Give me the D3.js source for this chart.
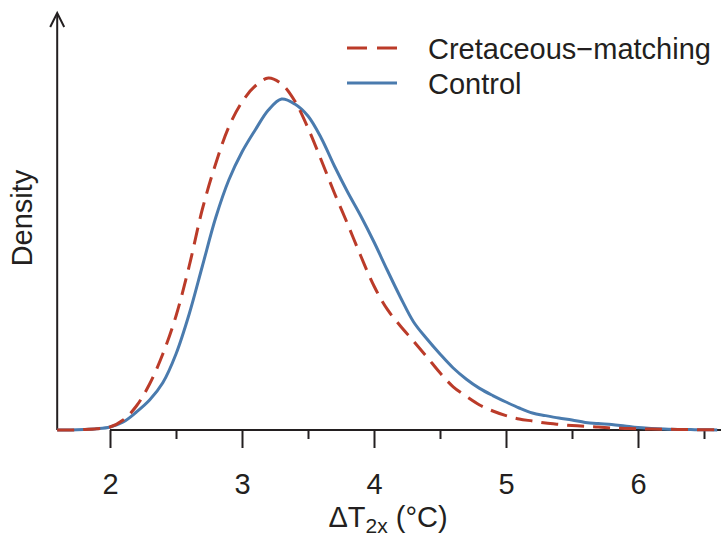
<!DOCTYPE html>
<html>
<head>
<meta charset="utf-8">
<script src="https://cdn.jsdelivr.net/npm/d3@7"></script>
<style>
  body { margin: 0; background: #fff; }
  svg text { font-family: "Liberation Sans", Arial, Helvetica, sans-serif; fill: #231f20; }
</style>
</head>
<body>
<div id="chart"></div>
<script>
// datos (densidad estimada)
const xVals = [1.6, 1.7, 1.8, 1.9, 2.0, 2.1, 2.2, 2.3, 2.4, 2.5, 2.6, 2.7, 2.8, 2.9, 3.0, 3.1, 3.2, 3.3, 3.4, 3.5,
  3.6, 3.7, 3.8, 3.9, 4.0, 4.1, 4.2, 4.3, 4.4, 4.5, 4.6, 4.7, 4.8, 4.9, 5.0, 5.1, 5.2, 5.3, 5.4, 5.5,
  5.6, 5.7, 5.8, 5.9, 6.0, 6.1, 6.2, 6.3, 6.4, 6.5, 6.6];
const cretaceous = [0, 0, 0.001, 0.003, 0.0075, 0.025, 0.06, 0.115, 0.19, 0.285, 0.41, 0.5525, 0.665, 0.7575, 0.82, 0.86, 0.88, 0.865, 0.8225, 0.755,
  0.675, 0.5925, 0.515, 0.435, 0.36, 0.302, 0.26, 0.222, 0.183, 0.143, 0.108, 0.084, 0.0625, 0.0475, 0.036, 0.0275, 0.0225, 0.0175, 0.014, 0.011,
  0.009, 0.0075, 0.005, 0.004, 0.003, 0.0025, 0.002, 0.0015, 0.001, 0.0008, 0.0005];
const control = [0, 0, 0.001, 0.003, 0.0075, 0.02, 0.045, 0.075, 0.118, 0.19, 0.29, 0.41, 0.53, 0.625, 0.695, 0.75, 0.80, 0.8275, 0.815, 0.785,
  0.73, 0.66, 0.595, 0.535, 0.47, 0.40, 0.332, 0.27, 0.228, 0.19, 0.155, 0.127, 0.104, 0.086, 0.07, 0.055, 0.0425, 0.036, 0.03, 0.025,
  0.019, 0.016, 0.014, 0.01, 0.006, 0.004, 0.0025, 0.0015, 0.001, 0.0005, 0.0003];
const majorTicks = [2, 3, 4, 5, 6];
const minorTicks = [2.5, 3.5, 4.5, 5.5, 6.5];
const legendLabels = ['Cretaceous\u2212matching', 'Control'];

const COLOR_RED = '#BB3B29',
  COLOR_BLUE = '#4A7BAE',
  COLOR_AXIS = '#231f20';

const width = 721, height = 540;

let svg = d3.select('#chart')
  .append('svg')
    .attr('width', width)
    .attr('height', height);

let x = d3.scaleLinear()
  .domain([2, 6])
  .range([110, 638]);

let y = d3.scaleLinear()
  .domain([0, 1])
  .range([430, 30]);

// eje x: linea + ticks mayores y menores
svg.append('line')
  .attr('x1', x(2)).attr('x2', x(7))
  .attr('y1', y(0)).attr('y2', y(0))
  .attr('stroke', COLOR_AXIS).attr('stroke-width', 2);

let xAxis = svg.append('g')
  .attr('transform', 'translate(0,' + y(0) + ')')
  .call(d3.axisBottom(x).tickValues(majorTicks).tickSize(18).tickPadding(25).tickFormat(d3.format('d')));
xAxis.select('.domain').remove();
xAxis.selectAll('.tick line').attr('stroke', COLOR_AXIS).attr('stroke-width', 2);
xAxis.selectAll('.tick text')
  .style('font-family', '"Liberation Sans", Arial, Helvetica, sans-serif')
  .style('font-size', '29px')
  .attr('fill', COLOR_AXIS);

let xMinor = svg.append('g')
  .attr('transform', 'translate(0,' + y(0) + ')')
  .call(d3.axisBottom(x).tickValues(minorTicks).tickSize(9).tickFormat(''));
xMinor.select('.domain').remove();
xMinor.selectAll('.tick line').attr('stroke', COLOR_AXIS).attr('stroke-width', 2);

// eje y con flecha
let yx = x(1.6);
svg.append('line')
  .attr('x1', yx).attr('x2', yx)
  .attr('y1', y(0)).attr('y2', 14)
  .attr('stroke', COLOR_AXIS).attr('stroke-width', 2);
svg.append('path')
  .attr('d', 'M' + (yx - 7) + ',27L' + yx + ',13L' + (yx + 7) + ',27')
  .attr('fill', 'none')
  .attr('stroke', COLOR_AXIS).attr('stroke-width', 2);

// titulos
svg.append('text')
  .attr('transform', 'translate(32,218) rotate(-90)')
  .attr('text-anchor', 'middle')
  .style('font-size', '29px')
  .text('Density');

let xt = svg.append('text')
  .attr('x', 388).attr('y', 527)
  .attr('text-anchor', 'middle')
  .style('font-size', '29px');
xt.append('tspan').text('\u0394T');
xt.append('tspan').attr('dy', 6).style('font-size', '21px').text('2x');
xt.append('tspan').attr('dy', -6).text(' (\u00B0C)');

// curvas
let line = d3.line()
  .x(function(d) { return x(d[0]); })
  .y(function(d) { return y(d[1]); })
  .curve(d3.curveCatmullRom.alpha(0.5));

let series = [
  {name: legendLabels[1], values: control, color: COLOR_BLUE, dash: null},
  {name: legendLabels[0], values: cretaceous, color: COLOR_RED, dash: '17,9'}
];

series.forEach(function(s) {
  svg.append('path')
    .datum(xVals.map(function(v, i) { return [v, s.values[i]]; }))
    .attr('d', line)
    .attr('fill', 'none')
    .attr('stroke', s.color)
    .attr('stroke-width', 3)
    .attr('stroke-dasharray', s.dash);
});

// leyenda
let legend = svg.append('g');
[{label: legendLabels[0], color: COLOR_RED, dash: '20,10', ly: 48},
 {label: legendLabels[1], color: COLOR_BLUE, dash: null, ly: 83}].forEach(function(l) {
  legend.append('line')
    .attr('x1', 347).attr('x2', 397)
    .attr('y1', l.ly).attr('y2', l.ly)
    .attr('stroke', l.color).attr('stroke-width', 3)
    .attr('stroke-dasharray', l.dash);
  legend.append('text')
    .attr('x', 428).attr('y', l.ly + 11)
    .style('font-size', '29px')
    .text(l.label);
});
</script>
</body>
</html>
